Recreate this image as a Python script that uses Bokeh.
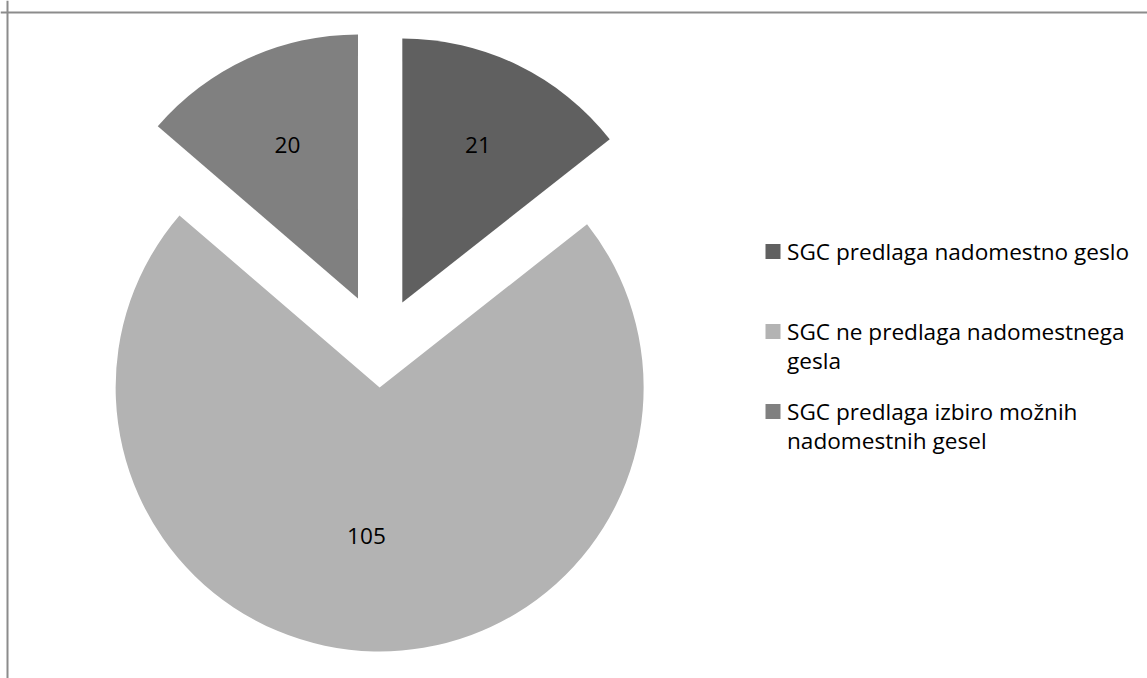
import math
import textwrap
from bokeh.plotting import figure
from bokeh.models import Range1d, Span, ColumnDataSource
from bokeh.core.properties import value
from bokeh.embed import file_html
from bokeh.resources import INLINE

# ---- data ----
categories = [
    "SGC predlaga nadomestno geslo",
    "SGC ne predlaga nadomestnega gesla",
    "SGC predlaga izbiro možnih nadomestnih gesel",
]
counts = [21, 105, 20]

# ---- styles ----
colors = ["#606060", "#b3b3b3", "#808080"]
explode = [50, 40, 54]           # px, per slice
label_frac = [0.665, 0.563, 0.64]  # label distance as fraction of radius
label_dx = [-1, -10, 0]
FONT = "Open Sans"
FSIZE = "22.6px"

W, H = 1147, 678

p = figure(width=W, height=H,
           x_range=Range1d(0, W), y_range=Range1d(-H, 0),
           output_backend="svg", toolbar_location=None, min_border=0)
p.axis.visible = False
p.grid.visible = False
p.outline_line_color = None
p.background_fill_color = "white"
p.border_fill_color = "white"

# chart border (top and left visible)
p.add_layout(Span(location=-12, dimension="width", line_color="#8c8c8c", line_width=2))
p.add_layout(Span(location=7, dimension="height", line_color="#8c8c8c", line_width=2))

# ---- pie ----
cx, cy, r = 380, -347, 264
total = sum(counts)
xs, ys, starts, ends, lx, ly = [], [], [], [], [], []
cum = 0.0
for i, v in enumerate(counts):
    ta = cum / total * 2 * math.pi
    cum += v
    tb = cum / total * 2 * math.pi
    mid = math.pi / 2 - (ta + tb) / 2
    ox = cx + explode[i] * math.cos(mid)
    oy = cy + explode[i] * math.sin(mid)
    xs.append(ox)
    ys.append(oy)
    starts.append(math.pi / 2 - tb)
    ends.append(math.pi / 2 - ta)
    lx.append(ox + label_frac[i] * r * math.cos(mid) + label_dx[i])
    ly.append(oy + label_frac[i] * r * math.sin(mid))

src = ColumnDataSource(dict(x=xs, y=ys, start=starts, end=ends, color=colors,
                            lx=lx, ly=ly, txt=[str(c) for c in counts]))
p.wedge(x="x", y="y", radius=r, start_angle="start", end_angle="end",
        fill_color="color", line_color=None, source=src)
p.text(x="lx", y="ly", text="txt", source=src, text_align="center",
       text_baseline="middle", text_font=value(FONT), text_font_size=FSIZE,
       text_color="#000000")

# ---- legend ----
leg_x, leg_y0, leg_step, line_step = 772.5, 251, 80, 28.5
sq_x, sq_y, tx, ty, tt = [], [], [], [], []
for i, cat in enumerate(categories):
    yc = leg_y0 + i * leg_step
    sq_x.append(leg_x)
    sq_y.append(-yc)
    for j, line in enumerate(textwrap.wrap(cat, 29)):
        tx.append(leg_x + 14)
        ty.append(-(yc + j * line_step))
        tt.append(line)
p.rect(x=sq_x, y=sq_y, width=15, height=15, fill_color=colors, line_color=None)
p.text(x=tx, y=ty, text=tt, text_align="left", text_baseline="middle",
       text_font=value(FONT), text_font_size=FSIZE, text_color="#000000")

open("out.html", "w").write(file_html(p, INLINE))
